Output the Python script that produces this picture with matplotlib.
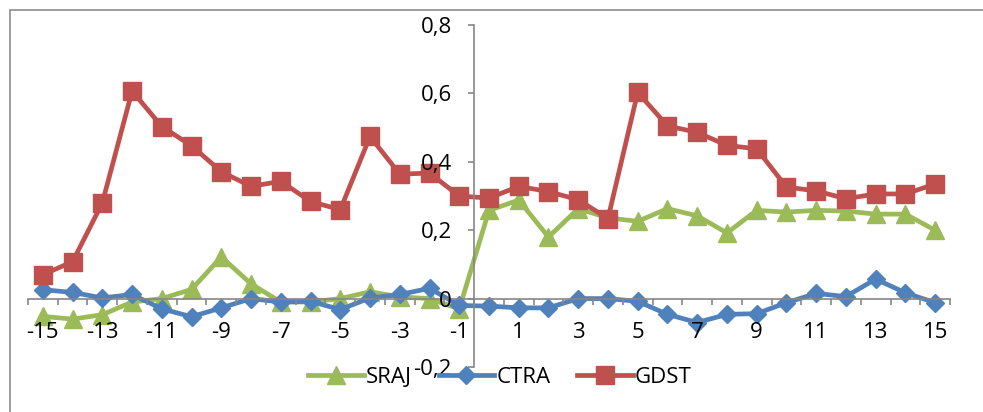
import matplotlib.pyplot as plt
from matplotlib.patches import Rectangle
from matplotlib.ticker import FuncFormatter, MultipleLocator

# event window (days)
days = list(range(-15, 16))

sraj = [-0.052, -0.060, -0.047, -0.010, 0.000, 0.027, 0.122, 0.043, -0.010, -0.010,
        0.000, 0.020, 0.005, 0.000, -0.030, 0.258, 0.288, 0.180, 0.263, 0.236,
        0.226, 0.263, 0.242, 0.192, 0.258, 0.253, 0.258, 0.256, 0.247, 0.247, 0.200]

ctra = [0.026, 0.018, 0.002, 0.012, -0.030, -0.053, -0.027, 0.000, -0.010, -0.008,
        -0.032, 0.002, 0.012, 0.030, -0.020, -0.022, -0.027, -0.027, 0.000, 0.000,
        -0.008, -0.046, -0.070, -0.046, -0.044, -0.012, 0.015, 0.006, 0.057, 0.017, -0.012]

gdst = [0.070, 0.108, 0.280, 0.607, 0.503, 0.447, 0.371, 0.328, 0.343, 0.284,
        0.260, 0.474, 0.364, 0.367, 0.300, 0.294, 0.328, 0.313, 0.289, 0.234,
        0.603, 0.505, 0.486, 0.448, 0.438, 0.326, 0.315, 0.292, 0.306, 0.306, 0.335]

plt.rcParams['font.family'] = ['Open Sans', 'DejaVu Sans']
plt.rcParams['axes.unicode_minus'] = False

fig = plt.figure(figsize=(9.83, 4.12), dpi=100)

# grey frame around the chart area (Excel style)
fig.patches.append(Rectangle((10 / 983, -0.05), 1.0, 1 - 10 / 412 + 0.05,
                             transform=fig.transFigure, fill=False,
                             edgecolor='#8c8c8c', linewidth=1.2))

ax = fig.add_axes([28 / 983, 1 - 367 / 412, 922 / 983, 342 / 412])

ax.plot(days, sraj, color='#9BBB59', lw=3.4, marker='^', ms=13, label='SRAJ')
ax.plot(days, ctra, color='#4F81BD', lw=3.4, marker='D', ms=9, label='CTRA')
ax.plot(days, gdst, color='#C0504D', lw=3.4, marker='s', ms=13, label='GDST')

ax.set_xlim(-15.5, 15.5)
ax.set_ylim(-0.2, 0.8)

# axes cross in the middle, like the original
for side in ['top', 'right']:
    ax.spines[side].set_visible(False)
ax.spines['left'].set_position(('data', -0.5))
ax.spines['bottom'].set_position(('data', 0))
ax.spines['left'].set_color('#868686')
ax.spines['bottom'].set_color('#868686')
ax.spines['left'].set_linewidth(1.2)
ax.spines['bottom'].set_linewidth(1.2)
ax.set_axisbelow(False)

ax.set_xticks(days[::2])
ax.set_xticks([d - 0.5 for d in days] + [15.5], minor=True)
ax.tick_params(axis='x', which='major', length=0, pad=17, labelsize=16)
ax.tick_params(axis='x', which='minor', length=4, width=1.2, color='#868686', direction='out')

ax.yaxis.set_major_locator(MultipleLocator(0.2))
ax.yaxis.set_major_formatter(FuncFormatter(
    lambda v, _: '0' if abs(v) < 1e-9 else f'{v:.1f}'.replace('.', ',')))
ax.tick_params(axis='y', length=4, width=1.2, color='#868686', pad=12, labelsize=16)

ax.legend(loc='center', bbox_to_anchor=(0.512, -0.03), ncol=3, frameon=False,
          fontsize=16, handlelength=2.5, columnspacing=1.2, handletextpad=0.1,
          borderaxespad=0)

fig.savefig('out.png', dpi=100)
